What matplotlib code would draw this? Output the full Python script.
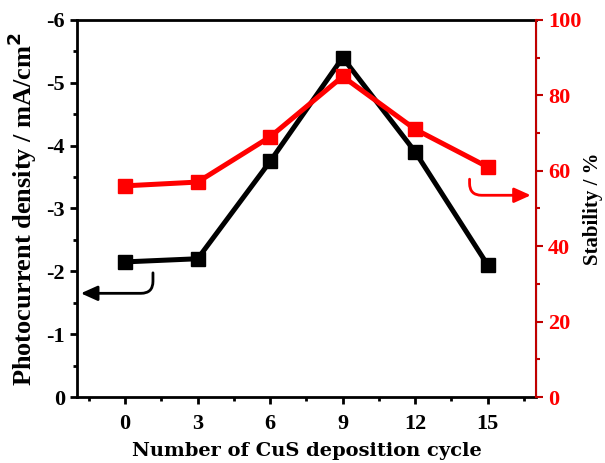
import matplotlib.pyplot as plt
from matplotlib.ticker import MultipleLocator

# CuS deposition cycles and measured values
cycles = [0, 3, 6, 9, 12, 15]
photocurrent = [-2.15, -2.2, -3.75, -5.4, -3.9, -2.1]
stability = [56, 57, 69, 85, 71, 61]

plt.rcParams["font.family"] = "Liberation Serif"
plt.rcParams["font.weight"] = "bold"
plt.rcParams["axes.unicode_minus"] = False

fig = plt.figure(figsize=(6.05, 4.63), dpi=100)
ax = fig.add_axes([0.127, 0.1425, 0.759, 0.8145])
ax2 = ax.twinx()

ax.plot(cycles, photocurrent, color="black", lw=3.6, marker="s", ms=10, zorder=3)
ax2.plot(cycles, stability, color="#ff0000", lw=3.6, marker="s", ms=10, zorder=3)

ax.set_xlim(-2, 17)
ax.set_ylim(0, -6)
ax2.set_ylim(0, 100)

ax.xaxis.set_major_locator(MultipleLocator(3))
ax.xaxis.set_minor_locator(MultipleLocator(1.5))
ax.yaxis.set_major_locator(MultipleLocator(1))
ax.yaxis.set_minor_locator(MultipleLocator(0.5))
ax2.yaxis.set_major_locator(MultipleLocator(20))
ax2.yaxis.set_minor_locator(MultipleLocator(10))

for sp in ["left", "bottom", "top"]:
    ax.spines[sp].set_linewidth(2)
ax2.spines["right"].set_color("#c00000")
ax2.spines["right"].set_linewidth(1.5)
for sp in ["left", "bottom", "top"]:
    ax2.spines[sp].set_visible(False)

ax.tick_params(axis="both", which="major", direction="out", length=5, width=2,
               labelsize=16)
ax.tick_params(axis="both", which="minor", direction="out", length=3, width=2)
ax.tick_params(axis="x", pad=7)
ax2.tick_params(axis="y", which="major", direction="out", length=5, width=1.5,
                color="#c00000", labelcolor="#ff0000", labelsize=16)
ax2.tick_params(axis="y", which="minor", direction="out", length=3, width=1.5,
                color="#c00000")

for lbl in ax.get_xticklabels() + ax.get_yticklabels() + ax2.get_yticklabels():
    lbl.set_fontweight("bold")

ax.set_xlabel("Number of CuS deposition cycle", fontsize=14, fontweight="bold",
              family="DejaVu Serif", labelpad=6)
ax.set_ylabel("Photocurrent density / mA/cm$^\\mathbf{2}$", fontsize=19,
              fontweight="bold", labelpad=5)
ax2.set_ylabel("Stability / %", fontsize=15, fontweight="bold", labelpad=1)

# curved arrows pointing each curve to its axis
ax.annotate("", xy=(-1.95, -1.65), xytext=(1.15, -2.02),
            arrowprops=dict(arrowstyle="-|>,head_length=1.0,head_width=0.45",
                            color="black", lw=2,
                            connectionstyle="angle,angleA=90,angleB=0,rad=12"))
ax2.annotate("", xy=(16.9, 53.5), xytext=(14.25, 58.5),
             arrowprops=dict(arrowstyle="-|>,head_length=1.0,head_width=0.45",
                             color="#ff0000", lw=2,
                             connectionstyle="angle,angleA=90,angleB=0,rad=12"))

fig.savefig("out.png", dpi=100)
